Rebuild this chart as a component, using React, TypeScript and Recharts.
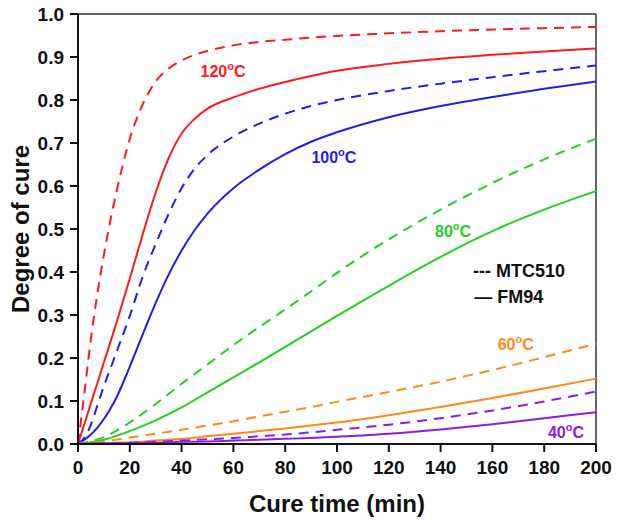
import { Label, Line, LineChart, ReferenceDot, ReferenceLine, XAxis, YAxis } from "recharts";

const FONT = '"Liberation Sans", Arial, sans-serif';

// cure time (min)
const fastTimes = [0, 2.5, 5, 7.5, 10, 12.5, 15, 20, 25, 30, 35, 40, 45, 50, 60, 70, 80, 90, 100, 120, 140, 160, 180, 200];
const slowTimes = [0, 10, 20, 30, 40, 50, 60, 70, 80, 90, 100, 120, 140, 160, 180, 200];

// degree of cure, MTC510 (dashed) and FM94 (solid)
const mtc120 = [0, 0.12, 0.245, 0.35, 0.44, 0.52, 0.59, 0.71, 0.79, 0.843, 0.873, 0.892, 0.905, 0.914, 0.927, 0.935, 0.94, 0.945, 0.949, 0.955, 0.96, 0.964, 0.967, 0.97];
const fm120 = [0, 0.047, 0.095, 0.142, 0.19, 0.237, 0.285, 0.385, 0.488, 0.585, 0.665, 0.722, 0.756, 0.78, 0.806, 0.826, 0.842, 0.856, 0.868, 0.884, 0.896, 0.905, 0.913, 0.92];
const mtc100 = [0, 0.015, 0.045, 0.09, 0.135, 0.175, 0.216, 0.298, 0.39, 0.465, 0.535, 0.595, 0.64, 0.672, 0.715, 0.745, 0.768, 0.786, 0.8, 0.821, 0.838, 0.853, 0.867, 0.88];
const fm100 = [0, 0.01, 0.022, 0.038, 0.058, 0.082, 0.11, 0.18, 0.255, 0.328, 0.394, 0.45, 0.497, 0.536, 0.595, 0.638, 0.674, 0.703, 0.725, 0.76, 0.786, 0.807, 0.826, 0.843];
const mtc80 = [0, 0.016, 0.05, 0.093, 0.14, 0.185, 0.23, 0.272, 0.313, 0.355, 0.398, 0.476, 0.545, 0.607, 0.662, 0.71];
const fm80 = [0, 0.01, 0.03, 0.055, 0.085, 0.12, 0.155, 0.19, 0.226, 0.262, 0.298, 0.368, 0.435, 0.495, 0.545, 0.588];
const mtc60 = [0, 0.006, 0.015, 0.024, 0.033, 0.043, 0.053, 0.064, 0.075, 0.086, 0.098, 0.121, 0.145, 0.172, 0.202, 0.233];
const fm60 = [0, 0.002, 0.004, 0.008, 0.012, 0.018, 0.024, 0.03, 0.036, 0.043, 0.05, 0.067, 0.086, 0.107, 0.129, 0.152];
const mtc40 = [0, 0.001, 0.003, 0.005, 0.008, 0.011, 0.014, 0.018, 0.022, 0.027, 0.033, 0.045, 0.06, 0.078, 0.099, 0.122];
const fm40 = [0, 0.001, 0.002, 0.003, 0.005, 0.006, 0.008, 0.01, 0.012, 0.014, 0.017, 0.024, 0.034, 0.046, 0.06, 0.074];

const xTicks = [0, 20, 40, 60, 80, 100, 120, 140, 160, 180, 200];
const yTicks = [0, 0.1, 0.2, 0.3, 0.4, 0.5, 0.6, 0.7, 0.8, 0.9, 1.0];

const toPoints = (times: number[], vals: number[]) =>
  times.map((t, i) => ({ t, v: vals[i] }));

const series = [
  { name: "mtc120", times: fastTimes, vals: mtc120, color: "#ff1a1a", dashed: true },
  { name: "fm120", times: fastTimes, vals: fm120, color: "#ff1a1a", dashed: false },
  { name: "mtc100", times: fastTimes, vals: mtc100, color: "#1f1fe8", dashed: true },
  { name: "fm100", times: fastTimes, vals: fm100, color: "#1f1fe8", dashed: false },
  { name: "mtc80", times: slowTimes, vals: mtc80, color: "#22d022", dashed: true },
  { name: "fm80", times: slowTimes, vals: fm80, color: "#22d022", dashed: false },
  { name: "mtc60", times: slowTimes, vals: mtc60, color: "#ff8a1a", dashed: true },
  { name: "fm60", times: slowTimes, vals: fm60, color: "#ff8a1a", dashed: false },
  { name: "mtc40", times: slowTimes, vals: mtc40, color: "#8a1ee8", dashed: true },
  { name: "fm40", times: slowTimes, vals: fm40, color: "#8a1ee8", dashed: false },
];

// temperature labels, anchored in data coordinates (text centre, baseline)
const tempLabels = [
  { text: "120", t: 56, v: 0.853, color: "#ff1a1a" },
  { text: "100", t: 98.8, v: 0.653, color: "#1f1fe8" },
  { text: "80", t: 144.8, v: 0.482, color: "#22d022" },
  { text: "60", t: 169, v: 0.219, color: "#ff8a1a" },
  { text: "40", t: 188.4, v: 0.015, color: "#8a1ee8" },
];

const legendItems = [
  { text: "--- MTC510", t: 152.5, v: 0.389 },
  { text: "\u2014 FM94", t: 153, v: 0.327 },
];

const renderTemp = (text: string, color: string) => (props: any) => {
  const { x, y } = props.viewBox;
  return (
    <text x={x} y={y} textAnchor="middle" fill={color} fontSize={16} fontWeight={700} fontFamily={FONT}>
      <tspan>{text}</tspan>
      <tspan dy={-7} fontSize={11}>o</tspan>
      <tspan dy={7}>C</tspan>
    </text>
  );
};

const renderLegend = (text: string) => (props: any) => {
  const { x, y } = props.viewBox;
  return (
    <text x={x} y={y} textAnchor="start" fill="#111" fontSize={18} fontWeight={700} fontFamily={FONT}>
      {text}
    </text>
  );
};

const YTitle = (props: any) => {
  const { y, height } = props.viewBox;
  const cy = y + height / 2;
  return (
    <text
      x={20}
      y={cy}
      transform={`rotate(-90 20 ${cy})`}
      textAnchor="middle"
      dominantBaseline="central"
      fill="#111"
      fontSize={24}
      fontWeight={700}
      fontFamily={FONT}
    >
      Degree of cure
    </text>
  );
};

export default function App() {
  const tickStyle = { fill: "#111", fontSize: 19, fontWeight: 700, fontFamily: FONT };
  return (
    <div style={{ position: "absolute", left: 0, top: 0, background: "#fff" }}>
      <LineChart width={617} height={522} margin={{ top: 14, right: 21, bottom: 0, left: 0 }}>
        <XAxis
          type="number"
          dataKey="t"
          domain={[0, 200]}
          ticks={xTicks}
          height={78}
          tick={tickStyle}
          tickSize={8}
          tickMargin={9}
          stroke="#111"
          strokeWidth={2}
          allowDuplicatedCategory={false}
        >
          <Label
            value="Cure time (min)"
            position="insideBottom"
            offset={10}
            style={{ fill: "#111", fontSize: 24, fontWeight: 700, fontFamily: FONT }}
          />
        </XAxis>
        <YAxis
          type="number"
          domain={[0, 1]}
          ticks={yTicks}
          width={78}
          tick={tickStyle}
          tickSize={8}
          tickMargin={6}
          tickFormatter={(v: number) => v.toFixed(1)}
          stroke="#111"
          strokeWidth={2}
        >
          <Label content={<YTitle />} />
        </YAxis>
        <ReferenceLine y={1} stroke="#333" strokeWidth={1.5} />
        <ReferenceLine x={200} stroke="#333" strokeWidth={1.5} />
        {series.map((s) => (
          <Line
            key={s.name}
            data={toPoints(s.times, s.vals)}
            dataKey="v"
            type="monotone"
            stroke={s.color}
            strokeWidth={2}
            strokeDasharray={s.dashed ? "10 7" : undefined}
            dot={false}
            activeDot={false}
            isAnimationActive={false}
          />
        ))}
        {tempLabels.map((l) => (
          <ReferenceDot
            key={l.text}
            x={l.t}
            y={l.v}
            r={0}
            fill="none"
            stroke="none"
            label={renderTemp(l.text, l.color)}
          />
        ))}
        {legendItems.map((l) => (
          <ReferenceDot
            key={l.text}
            x={l.t}
            y={l.v}
            r={0}
            fill="none"
            stroke="none"
            label={renderLegend(l.text)}
          />
        ))}
      </LineChart>
    </div>
  );
}
